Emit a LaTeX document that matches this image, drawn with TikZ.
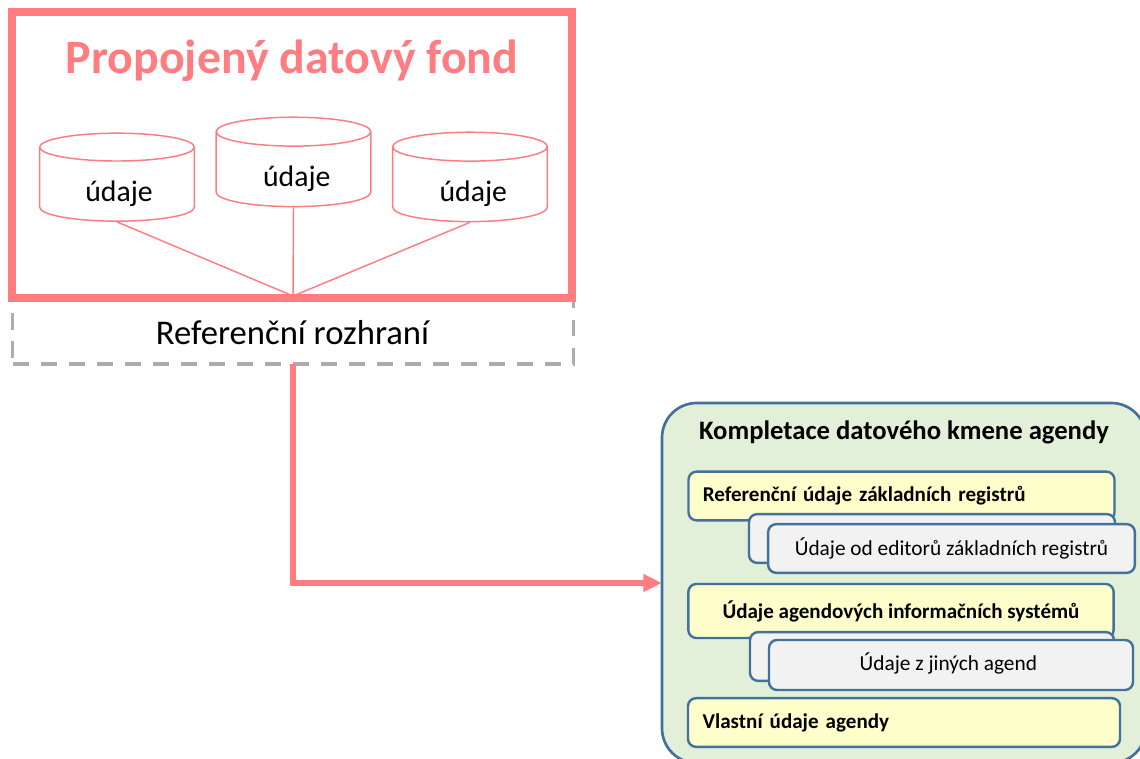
\documentclass[tikz,border=0pt]{standalone}
\usepackage{fontspec}
\setmainfont{Carlito}
\usetikzlibrary{arrows.meta,shapes.geometric}
\definecolor{cervena}{HTML}{FF7C80}
\definecolor{modra}{HTML}{41719C}
\definecolor{zelena}{HTML}{E2EFD9}
\definecolor{zluta}{HTML}{FFFFCC}
\definecolor{seda}{HTML}{F2F2F2}
\definecolor{sedaram}{HTML}{AFABAB}
\tikzset{
	databaze/.style={
			cylinder, shape border rotate=90, shape aspect=0.39, draw=cervena, fill=white,
			line width=1.1pt, minimum width=116pt, minimum height=66pt, inner sep=0pt,
			text height=30pt, text depth=4pt, font=\fontsize{22.3}{26}\selectfont
		},
	spojka/.style={draw=cervena, line width=1.1pt},
	blok/.style={
			draw=modra, rounded corners=6pt, line width=1.8pt, inner sep=0pt, outer sep=0pt
		},
	zlutyblok/.style={blok, fill=zluta, font=\fontsize{15.8}{18}\selectfont\bfseries},
	sedyblok/.style={blok, fill=seda, font=\fontsize{16}{18}\selectfont}
}

\begin{document}
\begin{tikzpicture}[x=0.75pt,y=-0.75pt]
	\useasboundingbox (0,0) rectangle (1140,759);
	% referencni rozhrani pod fondem
	\node[draw=sedaram, line width=2.6pt, dash pattern=on 12.5pt off 8.5pt, outer sep=0pt,
		minimum width=420.5pt, minimum height=50pt] (rozhrani) at (293,330.5) {};
	\node[font=\fontsize{26}{32}\selectfont] (rozhranitext) at (292.5,333) {Referenční rozhraní};
	% databaze a spojky
	\coordinate (vstup) at (293,296);
	\node[databaze] (db1) at (117,184.5) {\hspace*{3pt}údaje};
	\node[databaze] (db2) at (293.5,169.5) {\hspace*{5pt}údaje};
	\node[databaze] (db3) at (470,184.5) {\hspace*{5pt}údaje};
	\draw[spojka] (db1.south) -- (vstup);
	\draw[spojka] (db2.south) -- (vstup);
	\draw[spojka] (db3.south) -- (vstup);
	\node[draw=cervena, line width=6pt, outer sep=0pt, minimum width=420pt, minimum height=214pt] (fond) at (292,155) {};
	\node[text=cervena, font=\fontsize{35.9}{42}\selectfont\bfseries] (nazev) at (292,61) {Propojený datový fond};
	% kmen agendy
	\node[draw=modra, fill=zelena, line width=2pt, rounded corners=26pt, outer sep=0pt,
		minimum width=363pt, minimum height=270pt] (kmen) at (904,583) {};
	\node[font=\fontsize{20}{24}\selectfont\bfseries] (kmennazev) at (904,432) {Kompletace datového kmene agendy};
	\draw[cervena, line width=4.5pt, -{Triangle[length=14pt,width=12.5pt]}] (rozhrani.south) |- (kmen.west);
	% bloky
	\node[zlutyblok, minimum width=319.5pt, minimum height=36.5pt, text width=308pt, align=left] (referencni) at (901.5,496) {\hspace*{5pt}Referenční údaje základních registrů};
	\node[sedyblok, minimum width=274.5pt, minimum height=36.5pt] (editori1) at (932,538.5) {};
	\node[sedyblok, minimum width=275pt, minimum height=36.5pt] (editori2) at (951.5,548.5) {Údaje od editorů základních registrů};
	\node[zlutyblok, minimum width=319pt, minimum height=40.5pt] (agendove) at (901,611) {Údaje agendových informačních systémů};
	\node[sedyblok, minimum width=273pt, minimum height=36.5pt] (jine1) at (932,656.5) {};
	\node[sedyblok, minimum width=273pt, minimum height=37.5pt, text depth=5pt] (jine2) at (951,665) {\hspace*{-4pt}Údaje z jiných agend};
	\node[zlutyblok, minimum width=324pt, minimum height=36.5pt, text width=312pt, align=left] (vlastni) at (904,722.5) {\hspace*{5pt}Vlastní údaje agendy};
\end{tikzpicture}
\end{document}
